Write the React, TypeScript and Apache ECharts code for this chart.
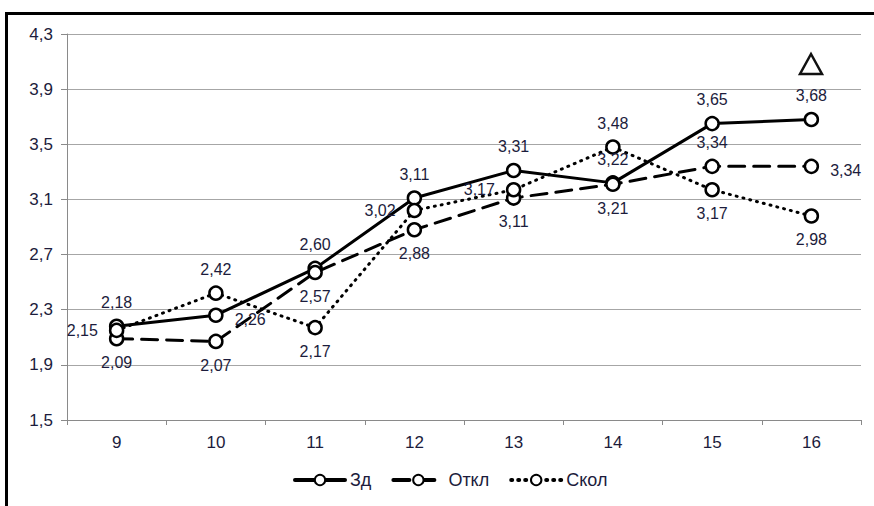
import React, { useEffect, useRef } from "react";
import * as echarts from "echarts";

// Grades on the x axis
const grades = ["9", "10", "11", "12", "13", "14", "15", "16"];

// Series values
const zdValues = [2.18, 2.26, 2.6, 3.11, 3.31, 3.22, 3.65, 3.68];
const otklValues = [2.09, 2.07, 2.57, 2.88, 3.11, 3.21, 3.34, 3.34];
const skolValues = [2.15, 2.42, 2.17, 3.02, 3.17, 3.48, 3.17, 2.98];

// Where each value label sits relative to its point
const zdLabelSide = ["top", "right", "top", "top", "top", "top", "top", "top"];
const otklLabelSide = ["bottom", "bottom", "bottom", "bottom", "bottom", "bottom", "top", "right"];
const skolLabelSide = ["left", "top", "bottom", "left", "left", "top", "bottom", "bottom"];

// Y axis range
const yMin = 1.5;
const yMax = 4.3;
const yStep = 0.4;

const TEXT = "#1c1c3c";
const FONT = "Arial, 'Liberation Sans', sans-serif";
const comma = (v: number, digits: number) => v.toFixed(digits).replace(".", ",");

function labelFor(side: string) {
  const base: any = {
    show: true,
    position: side,
    distance: side === "left" || side === "right" ? 11 : 8,
    color: TEXT,
    fontFamily: FONT,
    fontSize: 16,
    formatter: (p: any) => comma(p.value, 2),
  };
  if (side === "right") base.offset = [0, 4];
  return base;
}

function buildSeries(name: string, values: number[], sides: string[], lineType: any, width: number) {
  return {
    name,
    type: "line",
    data: values.map((v, i) => ({ value: v, label: labelFor(sides[i]) })),
    symbol: "circle",
    symbolSize: 13,
    lineStyle: { color: "#000", width, type: lineType, cap: "round" },
    itemStyle: { color: "#fff", borderColor: "#000", borderWidth: 2.5 },
    z: 3,
  };
}

export default function App() {
  const ref = useRef<HTMLDivElement>(null);

  useEffect(() => {
    document.body.style.margin = "0";
    const chart = echarts.init(ref.current!, null, { renderer: "svg" });
    chart.setOption({
      animation: false,
      backgroundColor: "#fff",
      grid: { left: 67, top: 34, right: 13, bottom: 86, containLabel: false },
      xAxis: {
        type: "category",
        data: grades,
        boundaryGap: true,
        axisLine: { lineStyle: { color: "#8a8a8a", width: 1 } },
        axisTick: { show: true, alignWithLabel: false, length: 5, lineStyle: { color: "#8a8a8a" } },
        axisLabel: {
          color: TEXT,
          fontFamily: FONT,
          fontSize: 17,
          margin: 14,
        },
        splitLine: { show: false },
      },
      yAxis: {
        type: "value",
        min: yMin,
        max: yMax,
        interval: yStep,
        axisLine: { show: true, lineStyle: { color: "#8a8a8a", width: 1 } },
        axisTick: { show: true, length: 6, lineStyle: { color: "#8a8a8a" } },
        axisLabel: {
          color: TEXT,
          fontFamily: FONT,
          fontSize: 17,
          margin: 14,
          formatter: (v: number) => comma(v, 1),
        },
        splitLine: { show: true, lineStyle: { color: "#a6a6a6", width: 1 } },
      },
      legend: {
        bottom: 12,
        left: 288,
        itemWidth: 50,
        itemHeight: 13,
        itemGap: 20,
        lineStyle: { width: 4 },
        textStyle: {
          color: TEXT,
          fontFamily: FONT,
          fontSize: 18,
        },
        data: ["Зд", "Откл", "Скол"],
      },
      series: [
        buildSeries("Зд", zdValues, zdLabelSide, "solid", 3),
        buildSeries("Откл", otklValues, otklLabelSide, [16, 9], 3),
        buildSeries("Скол", skolValues, skolLabelSide, [1, 6], 3),
      ],
      graphic: [
        {
          type: "rect",
          shape: { x: 6.5, y: 13.5, width: 900, height: 600 },
          style: { fill: "none", stroke: "#000", lineWidth: 3 },
          silent: true,
        },
        {
          // open triangle marker above the last grade
          type: "polygon",
          shape: { points: [[800, 74], [822, 74], [811, 54]] },
          style: { fill: "none", stroke: "#111", lineWidth: 2.5, lineJoin: "miter" },
          silent: true,
        },
      ],
    });
    return () => chart.dispose();
  }, []);

  return <div ref={ref} style={{ width: 874, height: 506 }} />;
}
